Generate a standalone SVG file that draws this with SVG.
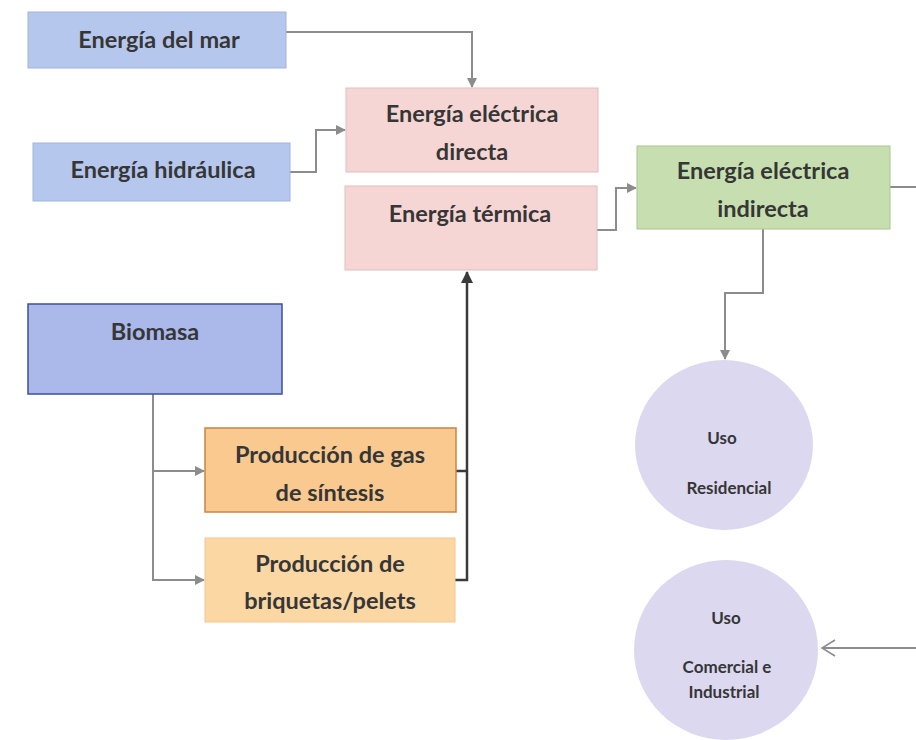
<svg xmlns="http://www.w3.org/2000/svg" width="916" height="740" viewBox="0 0 916 740">
<style>
text{font-family:Lato,"Open Sans","Liberation Sans",sans-serif;font-weight:bold;fill:#363636;text-anchor:middle}
.big{font-size:23.5px}
.sm{font-size:17px}
.blue{fill:#b6c7ee;stroke:#a3b3d9;stroke-width:1}
.pink{fill:#f6d6d4;stroke:#e3bdbd;stroke-width:1}
.c{fill:none;stroke:#8c8c8c;stroke-width:2}
.d{fill:none;stroke:#3a3a3a;stroke-width:2.5}
</style>
<defs>
<marker id="ag" markerWidth="10" markerHeight="10" refX="9" refY="5" orient="auto" markerUnits="userSpaceOnUse"><path d="M0,0 L10,5 L0,10 Z" fill="#8c8c8c"/></marker>
<marker id="ad" markerWidth="12" markerHeight="12" refX="11" refY="6" orient="auto" markerUnits="userSpaceOnUse"><path d="M0,0 L12,6 L0,12 Z" fill="#3a3a3a"/></marker>
<marker id="ao" markerWidth="16" markerHeight="18" refX="14" refY="9" orient="auto" markerUnits="userSpaceOnUse"><path d="M1,1 L14,9 L1,17" fill="none" stroke="#8c8c8c" stroke-width="1.5"/></marker>
</defs>
<rect width="916" height="740" fill="#ffffff"/>
<g id="connectors">
<path class="c" d="M286,32 H472 V87" marker-end="url(#ag)"/>
<path class="c" d="M290,172 H316 V130 H345" marker-end="url(#ag)"/>
<path class="c" d="M597,230 H616 V188 H636" marker-end="url(#ag)"/>
<path class="c" d="M763,229 V293 H725 V359" marker-end="url(#ag)"/>
<path class="c" d="M890,187 H916"/>
<path class="c" d="M916,648 H822" marker-end="url(#ao)" stroke-width="1.5"/>
<path class="c" d="M153,394 V580 H204" marker-end="url(#ag)"/>
<path class="c" d="M153,471 H204" marker-end="url(#ag)"/>
<path class="d" d="M456,471 H467 M455,580 H467 V272" marker-end="url(#ad)"/>
</g>
<g id="mar"><rect class="blue" x="28" y="12" width="258" height="56"/><text class="big" x="159" y="48">Energía del mar</text></g>
<g id="hidraulica"><rect class="blue" x="33" y="143" width="257" height="58"/><text class="big" x="163" y="178">Energía hidráulica</text></g>
<g id="directa"><rect class="pink" x="346" y="88" width="252" height="84"/><text class="big" x="472" y="122">Energía eléctrica</text><text class="big" x="472" y="160">directa</text></g>
<g id="termica"><rect class="pink" x="345" y="186" width="252" height="84"/><text class="big" x="470" y="222">Energía térmica</text></g>
<g id="indirecta"><rect x="637" y="146" width="253" height="83" fill="#c7dfb0" stroke="#a9c68d"/><text class="big" x="763" y="179">Energía eléctrica</text><text class="big" x="763" y="217">indirecta</text></g>
<g id="biomasa"><rect x="28" y="304" width="254" height="90" fill="#aab8ea" stroke="#3f4f9a" stroke-width="1.5"/><text class="big" x="155" y="340">Biomasa</text></g>
<g id="gas"><rect x="205" y="428" width="251" height="84" fill="#f9c98f" stroke="#c98443" stroke-width="1.5"/><text class="big" x="330" y="463">Producción de gas</text><text class="big" x="330" y="501">de síntesis</text></g>
<g id="briquetas"><rect x="205" y="538" width="250" height="84" fill="#fbd7a4" stroke="#f3c68f"/><text class="big" x="330" y="572">Producción de</text><text class="big" x="330" y="609">briquetas/pelets</text></g>
<g id="residencial"><ellipse cx="724" cy="445" rx="89" ry="85" fill="#dcd8f0"/><text class="sm" x="722" y="444">Uso</text><text class="sm" x="729" y="494">Residencial</text></g>
<g id="comercial"><ellipse cx="726" cy="650" rx="92" ry="90" fill="#dcd8f0"/><text class="sm" x="726" y="624">Uso</text><text class="sm" x="727" y="673">Comercial e</text><text class="sm" x="724" y="698">Industrial</text></g>
</svg>
